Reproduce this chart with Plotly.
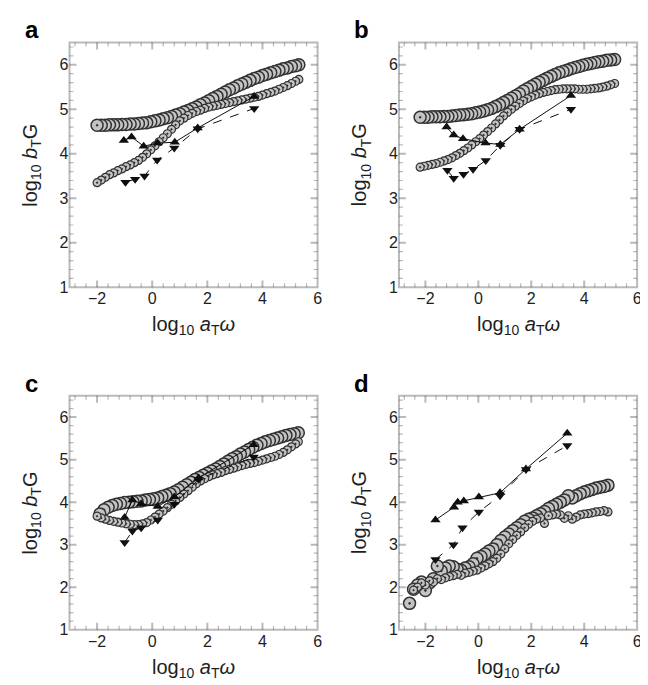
import plotly.graph_objects as go

# ---------------- data ----------------
# panel a
a_big_x = [-2.0, -1.85, -1.7, -1.55, -1.4, -1.25, -1.1, -0.95, -0.8, -0.65, -0.5, -0.35, -0.2, -0.05, 0.1, 0.25, 0.4, 0.55, 0.7, 0.85,
           1.0, 1.15, 1.3, 1.45, 1.6, 1.75, 1.9, 2.05, 2.2, 2.35, 2.5, 2.65, 2.8, 2.95, 3.1, 3.25, 3.4, 3.55, 3.7, 3.85,
           4.0, 4.15, 4.3, 4.45, 4.6, 4.75, 4.9, 5.05, 5.2, 5.32]
a_big_y = [4.64, 4.64, 4.64, 4.65, 4.65, 4.65, 4.66, 4.66, 4.67, 4.67, 4.68, 4.69, 4.7, 4.72, 4.74, 4.76, 4.79, 4.81, 4.84, 4.87,
           4.9, 4.94, 4.97, 5.01, 5.05, 5.1, 5.14, 5.19, 5.24, 5.29, 5.34, 5.39, 5.44, 5.48, 5.53, 5.57, 5.61, 5.65, 5.69, 5.72,
           5.76, 5.79, 5.82, 5.85, 5.88, 5.91, 5.93, 5.96, 5.98, 6.0]
a_small_x = a_big_x
a_small_y = [3.35, 3.41, 3.47, 3.53, 3.57, 3.62, 3.66, 3.71, 3.75, 3.8, 3.85, 3.92, 4.0, 4.09, 4.18, 4.27, 4.36, 4.45, 4.55, 4.65,
             4.74, 4.8, 4.86, 4.91, 4.95, 4.98, 5.02, 5.05, 5.07, 5.09, 5.11, 5.13, 5.15, 5.17, 5.19, 5.21, 5.23, 5.25, 5.27, 5.29,
             5.32, 5.35, 5.38, 5.41, 5.45, 5.49, 5.53, 5.58, 5.63, 5.67]
a_up_x = [-1.03, -0.75, -0.31, 0.19, 0.82, 1.65, 3.7]
a_up_y = [4.3, 4.38, 4.17, 4.24, 4.26, 4.58, 5.29]
a_dn_x = [-0.97, -0.62, -0.28, 0.18, 0.8, 1.65, 3.7]
a_dn_y = [3.36, 3.43, 3.5, 3.86, 4.13, 4.56, 5.02]

# panel b
b_big_x = [-2.2, -2.05, -1.9, -1.75, -1.6, -1.45, -1.3, -1.15, -1.0, -0.85, -0.7, -0.55, -0.4, -0.25, -0.1, 0.05, 0.2, 0.35, 0.5, 0.65,
           0.8, 0.95, 1.1, 1.25, 1.4, 1.55, 1.7, 1.85, 2.0, 2.15, 2.3, 2.45, 2.6, 2.75, 2.9, 3.05, 3.2, 3.35, 3.5, 3.65,
           3.8, 3.95, 4.1, 4.25, 4.4, 4.55, 4.7, 4.85, 5.0, 5.15]
b_big_y = [4.82, 4.82, 4.82, 4.83, 4.83, 4.83, 4.84, 4.84, 4.85, 4.86, 4.87, 4.88, 4.89, 4.9, 4.92, 4.94, 4.96, 4.99, 5.02, 5.06,
           5.1, 5.15, 5.2, 5.25, 5.3, 5.35, 5.41, 5.46, 5.51, 5.56, 5.61, 5.65, 5.7, 5.74, 5.78, 5.82, 5.85, 5.88, 5.91, 5.94,
           5.96, 5.99, 6.01, 6.03, 6.05, 6.07, 6.08, 6.1, 6.11, 6.12]
b_small_x = b_big_x
b_small_y = [3.7, 3.72, 3.74, 3.76, 3.78, 3.81, 3.84, 3.87, 3.91, 3.96, 4.01, 4.07, 4.13, 4.2, 4.27, 4.34, 4.42, 4.5, 4.58, 4.67,
             4.76, 4.85, 4.93, 5.0, 5.07, 5.13, 5.19, 5.24, 5.28, 5.32, 5.35, 5.38, 5.4, 5.42, 5.44, 5.45, 5.46, 5.46, 5.46, 5.46,
             5.45, 5.45, 5.45, 5.46, 5.47, 5.48, 5.5, 5.52, 5.55, 5.58]
b_up_x = [-1.2, -0.93, -0.58, 0.27, 0.83, 1.56, 3.5]
b_up_y = [4.6, 4.42, 4.34, 4.24, 4.21, 4.55, 5.31]
b_dn_x = [-1.17, -0.93, -0.56, -0.2, 0.28, 0.83, 1.56, 3.5]
b_dn_y = [3.63, 3.45, 3.54, 3.65, 3.85, 4.19, 4.55, 5.0]

# panel c
c_big_x = [-1.9, -1.75, -1.6, -1.45, -1.3, -1.15, -1.0, -0.85, -0.7, -0.55, -0.4, -0.25, -0.1, 0.05, 0.2, 0.35, 0.5, 0.65, 0.8, 0.95,
           1.1, 1.25, 1.4, 1.55, 1.7, 1.85, 2.0, 2.15, 2.3, 2.45, 2.6, 2.75, 2.9, 3.05, 3.2, 3.35, 3.5, 3.65, 3.8, 3.95,
           4.1, 4.25, 4.4, 4.55, 4.7, 4.85, 5.0, 5.15, 5.3]
c_big_y = [3.72, 3.82, 3.88, 3.92, 3.95, 3.97, 3.99, 4.0, 4.01, 4.02, 4.03, 4.05, 4.06, 4.08, 4.1, 4.13, 4.16, 4.2, 4.24, 4.29,
           4.35, 4.41, 4.47, 4.53, 4.58, 4.63, 4.68, 4.73, 4.78, 4.84, 4.9, 4.96, 5.02, 5.07, 5.13, 5.18, 5.24, 5.29, 5.34, 5.38,
           5.42, 5.45, 5.48, 5.51, 5.54, 5.57, 5.59, 5.61, 5.63]
c_small_x = [-2.0, -1.85, -1.7, -1.55, -1.4, -1.25, -1.1, -0.95, -0.8, -0.65, -0.5, -0.35, -0.2, -0.05, 0.1, 0.25, 0.4, 0.55, 0.7, 0.85,
             1.0, 1.15, 1.3, 1.45, 1.6, 1.75, 1.9, 2.05, 2.2, 2.35, 2.5, 2.65, 2.8, 2.95, 3.1, 3.25, 3.4, 3.55, 3.7, 3.85,
             4.0, 4.15, 4.3, 4.45, 4.6, 4.75, 4.9, 5.05, 5.2, 5.3]
c_small_y = [3.67, 3.63, 3.6, 3.57, 3.55, 3.53, 3.51, 3.49, 3.48, 3.47, 3.47, 3.49, 3.52, 3.58, 3.65, 3.72, 3.79, 3.87, 3.95, 4.03,
             4.11, 4.19, 4.27, 4.35, 4.43, 4.5, 4.55, 4.6, 4.64, 4.67, 4.7, 4.74, 4.77, 4.8, 4.83, 4.86, 4.89, 4.91, 4.93, 4.96,
             4.99, 5.02, 5.05, 5.08, 5.12, 5.17, 5.23, 5.3, 5.37, 5.42]
c_up_x = [-1.0, -0.72, -0.4, 0.2, 0.8, 1.68, 3.68]
c_up_y = [3.64, 4.05, 3.96, 3.9, 4.12, 4.57, 5.35]
c_dn_x = [-1.0, -0.72, -0.4, 0.2, 0.8, 1.68, 3.68]
c_dn_y = [3.05, 3.32, 3.4, 3.58, 3.95, 4.54, 5.06]

# panel d
d_big_x = [-2.6, -2.45, -2.3, -2.15, -2.0, -1.85, -1.7, -1.55, -1.4, -1.25, -1.1, -0.95, -0.8, -0.65, -0.5, -0.35, -0.2, -0.05, 0.1, 0.25,
           0.4, 0.55, 0.7, 0.85, 1.0, 1.15, 1.3, 1.45, 1.6, 1.75, 1.9, 2.05, 2.2, 2.35, 2.5, 2.65, 2.8, 2.95, 3.1, 3.25,
           3.4, 3.55, 3.7, 3.85, 4.0, 4.15, 4.3, 4.45, 4.6, 4.75, 4.9]
d_big_y = [1.62, 1.95, 2.05, 2.12, 1.92, 2.1, 2.2, 2.5, 2.38, 2.45, 2.5, 2.48, 2.42, 2.4, 2.45, 2.48, 2.55, 2.68, 2.72, 2.78,
           2.85, 2.9, 3.0, 3.1, 3.18, 3.25, 3.33, 3.4, 3.47, 3.55, 3.6, 3.63, 3.68, 3.73, 3.78, 3.85, 3.9, 3.95, 4.0, 4.05,
           4.15, 4.1, 4.15, 4.2, 4.24, 4.27, 4.3, 4.33, 4.35, 4.37, 4.4]
d_small_x = [-2.45, -2.3, -2.15, -2.0, -1.85, -1.7, -1.55, -1.4, -1.25, -1.1, -0.95, -0.8, -0.65, -0.5, -0.35, -0.2, -0.05, 0.1, 0.25, 0.4,
             0.55, 0.7, 0.85, 1.0, 1.15, 1.3, 1.45, 1.6, 1.75, 1.9, 2.05, 2.2, 2.35, 2.5, 2.65, 2.8, 2.95, 3.1, 3.25, 3.4,
             3.55, 3.7, 3.85, 4.0, 4.15, 4.3, 4.45, 4.6, 4.75, 4.9]
d_small_y = [1.93, 2.0, 2.1, 2.05, 2.15, 2.12, 2.2, 2.18, 2.22, 2.25, 2.27, 2.3, 2.28, 2.33, 2.35, 2.38, 2.4, 2.45, 2.5, 2.55,
             2.6, 2.68, 2.78, 2.9, 3.02, 3.12, 3.22, 3.3, 3.4, 3.48, 3.55, 3.6, 3.63, 3.5, 3.68, 3.7, 3.72, 3.7, 3.62, 3.68,
             3.6, 3.65, 3.7, 3.72, 3.73, 3.75, 3.77, 3.78, 3.8, 3.77]
d_up_x = [-1.62, -0.92, -0.78, -0.55, 0.02, 0.82, 1.8, 3.36]
d_up_y = [3.58, 3.88, 4.0, 4.03, 4.12, 4.22, 4.78, 5.62]
d_dn_x = [-1.62, -0.94, -0.6, 0.02, 0.82, 1.8, 3.36]
d_dn_y = [2.65, 3.0, 3.4, 3.77, 4.15, 4.77, 5.33]

panel_letters = ["a", "b", "c", "d"]
x_major_ticks = [-2, 0, 2, 4]
y_major_ticks = [2, 3, 4, 5, 6]
x_minor_step = 0.4
y_minor_step = 0.2

# ---------------- figure ----------------
W, H = 648, 685
FONT = "Liberation Sans, Arial, Helvetica, sans-serif"
INK = "#1e1e1e"

# plot frames in pixels (left, right, top, bottom)
frames = [(62, 312, 35, 283), (394, 634, 35, 283), (62, 312, 393, 630), (394, 634, 393, 630)]

data = [
    (a_big_x, a_big_y, a_small_x, a_small_y, a_up_x, a_up_y, a_dn_x, a_dn_y),
    (b_big_x, b_big_y, b_small_x, b_small_y, b_up_x, b_up_y, b_dn_x, b_dn_y),
    (c_big_x, c_big_y, c_small_x, c_small_y, c_up_x, c_up_y, c_dn_x, c_dn_y),
    (d_big_x, d_big_y, d_small_x, d_small_y, d_up_x, d_up_y, d_dn_x, d_dn_y),
]

# minor tick positions on the axis scales (excluding majors and frame edges)
x_minor_ticks = [round(k * x_minor_step, 3) for k in range(-7, 15)]
x_minor_ticks = [v for v in x_minor_ticks if all(abs(v - m) > 1e-6 for m in x_major_ticks)]
y_minor_ticks = [round(k * y_minor_step, 3) for k in range(6, 33)]
y_minor_ticks = [v for v in y_minor_ticks if all(abs(v - m) > 1e-6 for m in y_major_ticks)]


def vpath(vals, base, tip):
    # vertical tick segments at x-axis values, lengths in y-domain fraction
    return " ".join("M %.3f,%.4f L %.3f,%.4f" % (v, base, v, tip) for v in vals)


def hpath(vals, base, tip):
    # horizontal tick segments at y-axis values, lengths in x-domain fraction
    return " ".join("M %.4f,%.3f L %.4f,%.3f" % (base, v, tip, v) for v in vals)


fig = go.Figure()
annotations = []
shapes = []
layout_axes = {}

for i, (fr, dd, letter) in enumerate(zip(frames, data, panel_letters)):
    l, r, t, b = fr
    pw, ph = r - l, b - t
    n = "" if i == 0 else str(i + 1)
    xa, ya = "x" + n, "y" + n
    bx, by, sx, sy, ux, uy, dx, dy = dd

    # circles (drawn right to left so each left circle overlaps its right neighbour)
    fig.add_trace(go.Scatter(x=bx[::-1], y=by[::-1], mode="markers", xaxis=xa, yaxis=ya,
                             marker=dict(symbol="circle-dot", size=12, color="#c4c4c4",
                                         line=dict(color="#333333", width=1.5))))
    fig.add_trace(go.Scatter(x=sx[::-1], y=sy[::-1], mode="markers", xaxis=xa, yaxis=ya,
                             marker=dict(symbol="circle-dot", size=8, color="#c4c4c4",
                                         line=dict(color="#333333", width=1.2))))
    # triangles
    fig.add_trace(go.Scatter(x=ux, y=uy, mode="lines+markers", xaxis=xa, yaxis=ya,
                             line=dict(color="#111", width=1),
                             marker=dict(symbol="triangle-up", size=9, color="#111")))
    fig.add_trace(go.Scatter(x=dx, y=dy, mode="lines+markers", xaxis=xa, yaxis=ya,
                             line=dict(color="#111", width=1, dash="dash"),
                             marker=dict(symbol="triangle-down", size=9, color="#111")))

    layout_axes["xaxis" + n] = dict(domain=[l / W, r / W], anchor=ya, range=[-3, 6],
                                    showline=False, ticks="", showgrid=False, zeroline=False,
                                    tickmode="linear", tick0=0, dtick=2,
                                    tickfont=dict(family=FONT, size=16, color=INK))
    layout_axes["yaxis" + n] = dict(domain=[1 - b / H, 1 - t / H], anchor=xa, range=[1, 6.5],
                                    showline=False, ticks="", showgrid=False, zeroline=False,
                                    tickmode="linear", tick0=0, dtick=1,
                                    tickfont=dict(family=FONT, size=16, color=INK))

    # frame box around the plot area
    shapes.append(dict(type="rect", xref=xa + " domain", yref=ya + " domain", x0=0, x1=1, y0=0, y1=1,
                       line=dict(color=INK, width=2), fillcolor="rgba(0,0,0,0)", layer="above"))
    # inward ticks on all four sides, placed on the axis scales
    maj_x, min_x = 7.0 / ph, 4.0 / ph
    maj_y, min_y = 7.0 / pw, 4.0 / pw
    for vals, ln, wd in ((x_major_ticks, maj_x, 2), (x_minor_ticks, min_x, 1.2)):
        shapes.append(dict(type="path", xref=xa, yref=ya + " domain",
                           path=vpath(vals, 0, ln) + " " + vpath(vals, 1, 1 - ln),
                           line=dict(color=INK, width=wd), layer="above"))
    for vals, ln, wd in ((y_major_ticks, maj_y, 2), (y_minor_ticks, min_y, 1.2)):
        shapes.append(dict(type="path", xref=xa + " domain", yref=ya,
                           path=hpath(vals, 0, ln) + " " + hpath(vals, 1, 1 - ln),
                           line=dict(color=INK, width=wd), layer="above"))

    cx = (l + r) / 2
    annotations.append(dict(text="log<sub>10</sub> <i>a</i><sub>T</sub><i>ω</i>", x=cx / W, y=1 - (b + 39) / H,
                            xref="paper", yref="paper", showarrow=False, xanchor="center", yanchor="middle",
                            font=dict(family=FONT, size=20, color=INK)))
    annotations.append(dict(text="log<sub>10</sub> <i>b</i><sub>T</sub>G", x=(l - 38) / W, y=1 - (t + b) / 2 / H,
                            xref="paper", yref="paper", showarrow=False, xanchor="center", yanchor="middle",
                            textangle=-90, font=dict(family=FONT, size=20, color=INK)))
    annotations.append(dict(text="<b>%s</b>" % letter, x=(l - 38) / W, y=1 - (t - 13) / H,
                            xref="paper", yref="paper", showarrow=False, xanchor="center", yanchor="middle",
                            font=dict(family=FONT, size=24, color="#000")))

fig.update_layout(template="simple_white", width=W, height=H, margin=dict(l=0, r=0, t=0, b=0),
                  showlegend=False, annotations=annotations, shapes=shapes, **layout_axes)

fig.write_html("out.html")
